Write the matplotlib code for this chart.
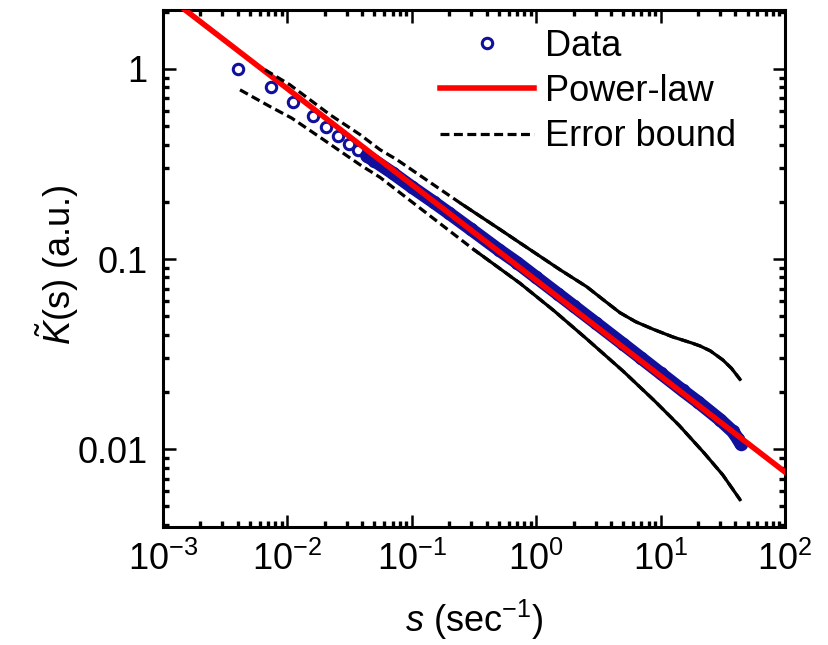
import matplotlib
matplotlib.use('Agg')
import matplotlib.pyplot as plt
import numpy as np

plt.rcParams['font.family'] = ['Liberation Sans', 'DejaVu Sans']
plt.rcParams['mathtext.fontset'] = 'custom'
plt.rcParams['mathtext.rm'] = 'Liberation Sans'
plt.rcParams['mathtext.it'] = 'Liberation Sans:italic'
plt.rcParams['mathtext.bf'] = 'Liberation Sans:bold'

# ---- data ----
data_s = [0.0040, 0.0074, 0.0111, 0.0160, 0.0204, 0.0257, 0.0314, 0.0371, 0.0434,
          0.05, 0.07, 0.1, 0.15, 0.2, 0.3, 0.5, 0.7, 1.0, 1.5, 2.0, 3.0, 5.0, 7.0,
          10.0, 15.0, 20.0, 30.0, 38.0, 42.0, 44.0]
data_K = [1.00, 0.80, 0.668, 0.567, 0.494, 0.445, 0.404, 0.376, 0.349,
          0.329, 0.2835, 0.2393, 0.1991, 0.1739, 0.1432, 0.1118, 0.0958, 0.0801,
          0.0654, 0.0566, 0.0462, 0.0357, 0.0301, 0.0251, 0.0204, 0.0177, 0.0143,
          0.0124, 0.0113, 0.0107]

powerlaw_s = [1e-3, 1e2]
powerlaw_K = [2.51, 0.00759]

upper_s = [0.0066, 0.0105, 0.0220, 0.0384, 0.0555, 0.076, 0.251, 0.501, 0.741,
           1.55, 2.55, 3.55, 4.72, 6.31, 8.75, 12.6, 17.8, 20.8, 25.1, 31.6, 37.2, 43.5]
upper_K = [0.99, 0.824, 0.574, 0.451, 0.376, 0.333, 0.195, 0.1445, 0.1216,
           0.0880, 0.0715, 0.0603, 0.0522, 0.0468, 0.0427, 0.0389, 0.0362, 0.0349,
           0.0329, 0.0295, 0.0266, 0.0233]

lower_s = [0.00416, 0.00724, 0.01084, 0.01828, 0.0384, 0.0555, 0.126, 0.316, 0.741,
           1.38, 2.55, 5.01, 8.91, 14.1, 22.4, 31.6, 43.5]
lower_K = [0.776, 0.634, 0.551, 0.437, 0.313, 0.269, 0.178, 0.112, 0.0746,
           0.0537, 0.0380, 0.0257, 0.0180, 0.01334, 0.00955, 0.00733, 0.00543]

xtick_vals = [1e-3, 1e-2, 1e-1, 1e0, 1e1, 1e2]
xtick_labels = [r'$\mathregular{10^{-3}}$', r'$\mathregular{10^{-2}}$', r'$\mathregular{10^{-1}}$',
                r'$\mathregular{10^{0}}$', r'$\mathregular{10^{1}}$', r'$\mathregular{10^{2}}$']
ytick_vals = [0.01, 0.1, 1]
ytick_labels = ['0.01', '0.1', '1']

blue = '#10109c'

fig = plt.figure(figsize=(8.29, 6.45), dpi=100)
ax = fig.add_axes([163/829, 1-527/645, 622/829, 517/645])
ax.set_xscale('log')
ax.set_yscale('log')
ax.set_xlim(1e-3, 1e2)
ax.set_ylim(0.0039, 2.04)

ds = np.array(data_s); dk = np.array(data_K)
band = ds >= 0.043
ax.plot(ds[band], dk[band], color=blue, lw=9.5, solid_capstyle='round', zorder=2)
hdata, = ax.plot(ds, dk, 'o', ms=7.5, mfc='none', mec=blue, mew=2.2, zorder=3,
                 label='Data')
hpl, = ax.plot(powerlaw_s, powerlaw_K, color='#ff0000', lw=4, zorder=4, label='Power-law')

for s_arr, k_arr in [(upper_s, upper_K), (lower_s, lower_K)]:
    sa = np.array(s_arr); ka = np.array(k_arr)
    herr, = ax.plot(sa, ka, color='black', lw=2.3, ls=(0, (2.8, 1.4)), zorder=5,
                    label='Error bound')
    m = sa >= 0.2
    ax.plot(sa[m], ka[m], color='black', lw=2.3, zorder=5)

ax.set_xticks(xtick_vals)
ax.set_xticklabels(xtick_labels)
ax.set_yticks(ytick_vals)
ax.set_yticklabels(ytick_labels)
for sp in ax.spines.values():
    sp.set_linewidth(2.2)
ax.tick_params(which='major', direction='in', length=9, width=1.8, labelsize=26,
               top=True, right=True, pad=11)
ax.tick_params(which='minor', direction='in', length=4, width=2.4, top=True, right=True)

fig.text(474/829, 1-620/645, r'$\mathit{s}$ (sec$^{\mathregular{-1}}$)', ha='center',
         va='center', fontsize=26)
fig.text(57/829, 1-265/645, r'$\tilde{\mathit{K}}$(s) (a.u.)', ha='center', va='center',
         rotation=90, fontsize=26)

leg = ax.legend(handles=[hdata, hpl, herr], loc='upper left',
                bbox_to_anchor=(440/829, 1-29/645), bbox_transform=fig.transFigure,
                frameon=False, fontsize=26, handlelength=2.6, handletextpad=0.3,
                labelspacing=0.28, borderpad=0, borderaxespad=0, numpoints=1)

fig.savefig('out.png', dpi=100)
